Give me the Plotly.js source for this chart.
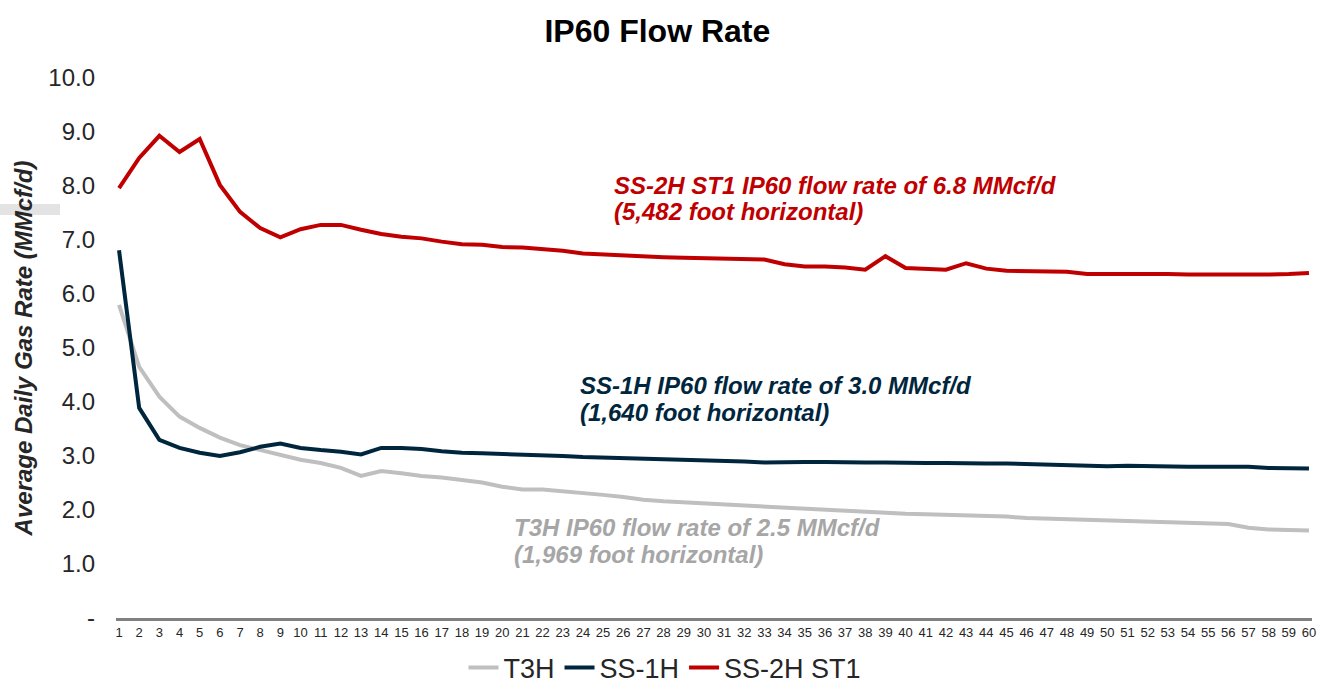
<!DOCTYPE html>
<html>
<head>
<meta charset="utf-8">
<script src="https://cdn.plot.ly/plotly-3.0.1.min.js"></script>
<style>html,body{margin:0;padding:0;background:#fff;}#chart{width:1328px;height:684px;}</style>
</head>
<body>
<div id="chart"></div>
<script>
const days = [1,2,3,4,5,6,7,8,9,10,11,12,13,14,15,16,17,18,19,20,21,22,23,24,25,26,27,28,29,30,31,32,33,34,35,36,37,38,39,40,41,42,43,44,45,46,47,48,49,50,51,52,53,54,55,56,57,58,59,60];

const t3h = [5.80,4.65,4.10,3.73,3.52,3.34,3.20,3.11,3.02,2.93,2.87,2.78,2.63,2.72,2.68,2.63,2.60,2.55,2.51,2.43,2.38,2.38,2.35,2.32,2.28,2.24,2.19,2.16,2.14,2.12,2.10,2.08,2.06,2.04,2.02,2.00,1.98,1.96,1.95,1.93,1.92,1.91,1.90,1.89,1.88,1.85,1.84,1.83,1.82,1.81,1.80,1.79,1.78,1.76,1.75,1.74,1.67,1.64,1.63,1.62];

const ss1h = [6.81,3.89,3.30,3.15,3.06,3.00,3.07,3.17,3.23,3.15,3.11,3.08,3.03,3.15,3.15,3.13,3.09,3.06,3.05,3.04,3.03,3.01,3.00,2.98,2.97,2.97,2.96,2.95,2.94,2.93,2.91,2.90,2.88,2.89,2.89,2.89,2.88,2.88,2.88,2.87,2.87,2.87,2.86,2.86,2.86,2.85,2.84,2.83,2.82,2.81,2.82,2.81,2.80,2.80,2.80,2.80,2.80,2.78,2.77,2.77];

const ss2hst1 = [7.96,8.52,8.93,8.63,8.87,8.02,7.52,7.22,7.05,7.20,7.28,7.28,7.19,7.11,7.06,7.03,6.97,6.92,6.91,6.87,6.86,6.83,6.80,6.75,6.73,6.71,6.69,6.68,6.67,6.66,6.65,6.64,6.64,6.55,6.51,6.51,6.49,6.45,6.70,6.48,6.46,6.45,6.57,6.47,6.43,6.42,6.41,6.41,6.37,6.37,6.38,6.38,6.37,6.36,6.36,6.35,6.35,6.36,6.37,6.39];

const yTickVals = [0,1,2,3,4,5,6,7,8,9,10];
const yTickText = ["-","1.0","2.0","3.0","4.0","5.0","6.0","7.0","8.0","9.0","10.0"];

const seriesNames = ["T3H","SS-1H","SS-2H ST1"];
const seriesColors = ["#BFBFBF","#00263E","#C00000"];

const noteLines = [
  ["T3H IP60 flow rate of 2.5 MMcf/d", "(1,969 foot horizontal)"],
  ["SS-1H IP60 flow rate of 3.0 MMcf/d", "(1,640 foot horizontal)"],
  ["SS-2H ST1 IP60 flow rate of 6.8 MMcf/d", "(5,482 foot horizontal)"]
];
const noteColors = ["#A6A6A6","#00263E","#C00000"];

const FONT = "Arial, 'Liberation Sans', sans-serif";

const seriesData = [t3h, ss1h, ss2hst1];
const traces = seriesData.map((ys, i) => ({
  x: days, y: ys, type: "scatter", mode: "lines", name: seriesNames[i],
  line: {color: seriesColors[i], width: 4}
}));

const PLOT_H = 540, PLOT_L = 116, PLOT_W = 1196, ZERO_Y = 618;
const notePx = [
  {x: 512, y: 527},
  {x: 578, y: 385},
  {x: 612, y: 185}
];

const annotations = [];
noteLines.forEach((lines, i) => {
  lines.forEach((ln, j) => {
    annotations.push({
      text: "<b><i>" + ln + "</i></b>", xref: "paper", yref: "paper",
      x: (notePx[i].x - PLOT_L) / PLOT_W, y: (ZERO_Y - (notePx[i].y + 27 * j)) / PLOT_H,
      xanchor: "left", yanchor: "middle", align: "left", showarrow: false,
      font: {family: FONT, size: 24, color: noteColors[i]}
    });
  });
});

const layout = {
  width: 1328, height: 684,
  margin: {l: 116, r: 16, t: 78, b: 66, autoexpand: false},
  paper_bgcolor: "#fff", plot_bgcolor: "#fff",
  font: {family: FONT, color: "#262626"},
  title: {text: "<b>IP60 Flow Rate</b>", x: 0.495, xref: "container", xanchor: "center", y: 0.955, yref: "container", yanchor: "middle", font: {family: FONT, size: 32, color: "#000"}},
  xaxis: {
    range: [0.85, 60.15], tickmode: "array", tickvals: days, ticktext: days.map(String),
    showgrid: false, zeroline: false, showline: true, linecolor: "#808080", linewidth: 3,
    ticks: "", tickangle: 0, tickfont: {family: FONT, size: 13, color: "#262626"}
  },
  yaxis: {
    range: [0, 10], tickmode: "array", tickvals: yTickVals, ticktext: yTickText,
    showgrid: false, zeroline: false, showline: false, ticks: "", ticklabelstandoff: 20,
    tickfont: {family: FONT, size: 24, color: "#262626"},
    title: {text: "<b><i>Average Daily Gas Rate (MMcf/d)</i></b>", standoff: 8, font: {family: FONT, size: 24, color: "#262626"}}
  },
  showlegend: true,
  legend: {orientation: "h", x: (665 - PLOT_L) / PLOT_W, xanchor: "center", y: (ZERO_Y - 668) / PLOT_H, yanchor: "middle", font: {family: FONT, size: 27, color: "#262626"}, bgcolor: "rgba(0,0,0,0)", traceorder: "normal"},
  annotations: annotations,
  shapes: [{type: "rect", xref: "paper", yref: "paper", x0: (0 - PLOT_L) / PLOT_W, x1: (60 - PLOT_L) / PLOT_W, y0: (ZERO_Y - 215) / PLOT_H, y1: (ZERO_Y - 204) / PLOT_H, fillcolor: "#E3E3E3", line: {width: 0}, layer: "below"}]
};

Plotly.newPlot("chart", traces, layout, {staticPlot: true, displayModeBar: false});
</script>
</body>
</html>
